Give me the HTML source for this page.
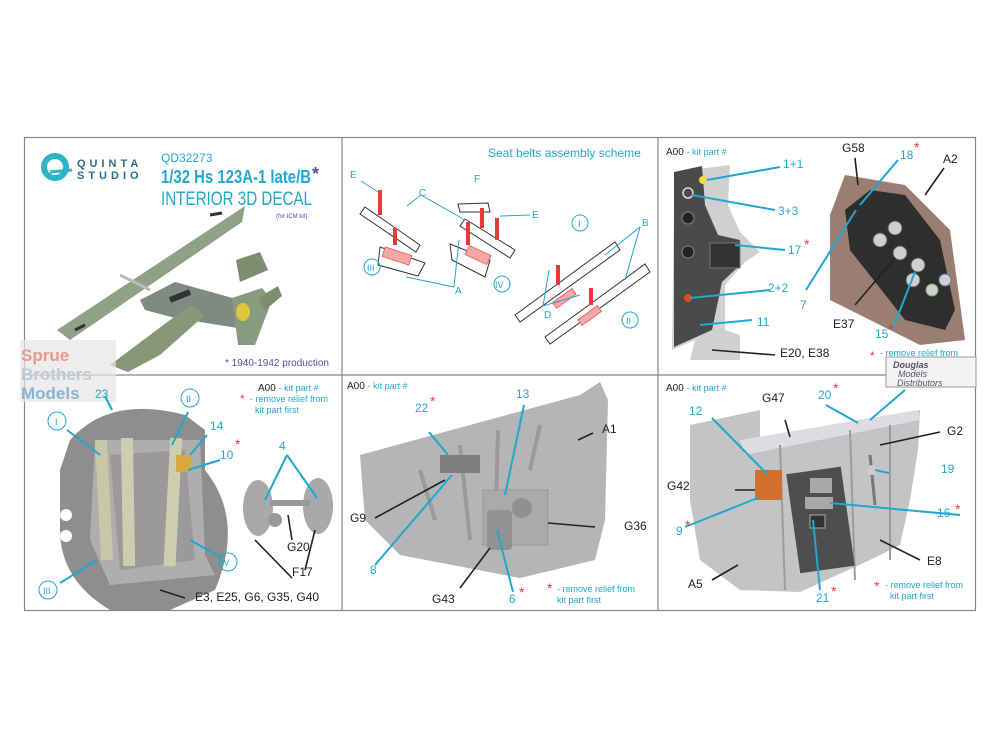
<!DOCTYPE html>
<html><head><meta charset="utf-8"><style>
html,body{margin:0;padding:0;background:#fff;}
svg{display:block}
text{font-family:"Liberation Sans",Arial,sans-serif;}
.c{fill:#22a7cf}
.k{fill:#222}
.r{fill:#e83a3a}
.lc{stroke:#22a7cf;stroke-width:2;fill:none}
.lk{stroke:#222;stroke-width:1.6;fill:none}
.tl{stroke:#22a7cf;stroke-width:1;fill:none}
</style></head><body>
<svg width="1000" height="750" viewBox="0 0 1000 750" xmlns="http://www.w3.org/2000/svg">
<rect width="1000" height="750" fill="#fff"/>
<rect x="24.5" y="137.5" width="951" height="473" fill="none" stroke="#888" stroke-width="1.2"/>
<line x1="342" y1="137" x2="342" y2="611" stroke="#888" stroke-width="1.2"/>
<line x1="658" y1="137" x2="658" y2="611" stroke="#888" stroke-width="1.2"/>
<line x1="24" y1="375" x2="976" y2="375" stroke="#888" stroke-width="1.2"/>

<!-- PANEL 1 -->
<circle cx="55" cy="167" r="11" fill="none" stroke="#2bb3c8" stroke-width="6"/>
<path d="M50 172 L72 170" stroke="#2bb3c8" stroke-width="3"/>
<text x="77" y="167" font-size="11" font-weight="bold" fill="#2a6d8a" letter-spacing="4">QUINTA</text>
<text x="77" y="179" font-size="11" font-weight="bold" fill="#2a6d8a" letter-spacing="4">STUDIO</text>
<text x="161" y="162" font-size="12" class="c">QD32273</text>
<text x="161" y="183" font-size="18" font-weight="bold" class="c" textLength="150" lengthAdjust="spacingAndGlyphs">1/32 Hs 123A-1 late/B</text>
<text x="312" y="180" font-size="18" font-weight="bold" fill="#5a4aa8">*</text>
<text x="161" y="205" font-size="19" class="c" textLength="151" lengthAdjust="spacingAndGlyphs">INTERIOR 3D DECAL</text>
<text x="276" y="218" font-size="6" fill="#5a4aa8">(for ICM kit)</text>
<!-- plane -->
<path d="M236 260 L260 252 L268 270 L240 282 Z" fill="#7d8f70"/>
<path d="M140 300 L175 282 L240 300 L262 318 L250 330 L175 318 L145 310 Z" fill="#7f8a82"/>
<path d="M110 365 L170 320 L190 305 L205 315 L160 355 L128 372 Z" fill="#86977a"/>
<path d="M245 206 L242 222 L70 340 L57 330 Z" fill="#8fa285"/>
<path d="M232 298 L262 288 L272 300 L255 345 L238 345 Z" fill="#889b7f"/>
<path d="M258 298 L278 286 L282 296 L265 310 Z" fill="#7d8f70"/>
<ellipse cx="243" cy="312" rx="7" ry="9" fill="#e0c640"/>
<path d="M170 300 L190 292" stroke="#333" stroke-width="6"/>
<path d="M75 330 L85 325 M210 215 L222 213" stroke="#333" stroke-width="3"/>
<path d="M120 275 L150 290" stroke="#bbb" stroke-width="3"/>
<text x="225" y="366" font-size="10" fill="#5a4aa8">* 1940-1942 production</text>
<rect x="20" y="340" width="96" height="62" fill="#e6e6e6" opacity="0.7"/>
<text x="21" y="361" font-size="17" font-weight="bold" font-family="Liberation Serif" fill="#e89a8c">Sprue</text>
<text x="21" y="380" font-size="17" font-weight="bold" font-family="Liberation Serif" fill="#c0c8d0">Brothers</text>
<text x="21" y="399" font-size="17" font-weight="bold" font-family="Liberation Serif" fill="#8ab4d4">Models</text>

<!-- PANEL 2 top : belts -->
<text x="488" y="157" font-size="12" class="c">Seat belts assembly scheme</text>
<g stroke="#333" stroke-width="1" fill="#fff">
<path d="M365 207 L420 245 L416 252 L360 214 Z"/>
<path d="M380 247 L425 263 L418 276 L378 265 Z"/>
<path d="M450 244 L490 260 L485 277 L452 260 Z"/>
<path d="M458 204 L488 203 L490 212 L460 212 Z"/>
<path d="M465 219 L515 250 L510 258 L460 226 Z"/>
<path d="M515 315 L615 242 L620 250 L520 322 Z"/>
<path d="M545 337 L645 264 L650 272 L550 344 Z"/>
</g>
<g fill="#f4a8a8" stroke="#e55" stroke-width="0.8">
<rect x="383" y="251" width="28" height="10" transform="rotate(18 397 256)"/>
<rect x="466" y="250" width="24" height="10" transform="rotate(25 478 255)"/>
<rect x="552" y="295" width="24" height="7" transform="rotate(-36 564 298)"/>
<rect x="578" y="312" width="24" height="7" transform="rotate(-36 590 316)"/>
</g>
<g stroke="#e83a3a" stroke-width="4">
<line x1="380" y1="190" x2="380" y2="215"/><line x1="395" y1="228" x2="395" y2="245"/>
<line x1="482" y1="208" x2="482" y2="228"/><line x1="468" y1="222" x2="468" y2="245"/>
<line x1="497" y1="218" x2="497" y2="240"/><line x1="558" y1="265" x2="558" y2="285"/>
<line x1="591" y1="288" x2="591" y2="305"/>
</g>
<g class="tl">
<path d="M361 181 L378 192"/><path d="M421 195 L407 206 M421 195 L465 220"/>
<path d="M406 277 L454 287 L459 240"/><path d="M500 216 L530 215"/>
<path d="M543 306 L549 270 M543 306 L580 295"/><path d="M640 227 L605 255 M640 227 L625 280"/>
<circle cx="372" cy="267" r="8"/><circle cx="502" cy="284" r="8"/>
<circle cx="580" cy="223" r="8"/><circle cx="630" cy="320" r="8"/>
</g>
<g font-size="10" class="c">
<text x="350" y="178">E</text><text x="419" y="196">C</text><text x="474" y="182">F</text>
<text x="532" y="218">E</text><text x="642" y="226">B</text><text x="455" y="294">A</text>
<text x="544" y="318">D</text>
<text x="367" y="271" font-size="9">III</text><text x="495" y="288" font-size="9">IV</text>
<text x="578" y="227" font-size="9">I</text><text x="626" y="324" font-size="9">II</text>
</g>

<!-- PANEL 3 top -->
<text x="666" y="155" font-size="10" class="k">A00 <tspan class="c" font-size="9">- kit part #</tspan></text>
<path d="M690 170 L730 165 L728 205 L740 232 L760 252 L745 262 L725 285 L725 330 L740 335 L740 360 L690 360 L695 340 L672 350 L674 200 Z" fill="#d0d0d0"/>
<path d="M674 172 L702 166 L705 205 L718 235 L740 240 L740 265 L722 282 L712 330 L674 347 Z" fill="#4a4a4a"/>
<circle cx="703" cy="180" r="4" fill="#e8dc40"/><circle cx="688" cy="193" r="5" fill="none" stroke="#ddd" stroke-width="1.5"/>
<circle cx="688" cy="218" r="6" fill="#222" stroke="#888"/><circle cx="688" cy="252" r="6" fill="#222" stroke="#888"/>
<rect x="710" y="243" width="30" height="25" fill="#333" stroke="#777"/>
<circle cx="688" cy="298" r="4" fill="#e04a20"/>
<path d="M830 215 L845 175 L905 185 L950 230 L965 340 L920 345 L830 300 Z" fill="#9a7e72"/>
<path d="M845 210 L870 190 L905 195 L940 240 L955 310 L945 330 L905 320 L850 250 Z" fill="#2e2e2e"/>
<g fill="#cfcfcf" stroke="#555"><circle cx="895" cy="228" r="7"/><circle cx="880" cy="240" r="7"/><circle cx="900" cy="253" r="7"/><circle cx="918" cy="265" r="7"/><circle cx="932" cy="290" r="6" stroke="#7a5" /><circle cx="945" cy="280" r="6" stroke="#57a"/><circle cx="913" cy="280" r="7"/></g>
<g class="lc">
<path d="M707 180 L780 167"/><path d="M692 195 L775 210"/><path d="M735 245 L785 250"/>
<path d="M690 298 L770 290"/><path d="M700 325 L752 320"/>
<path d="M860 205 L898 160"/><path d="M856 210 L806 290"/><path d="M915 272 L893 328"/>
</g>
<g class="lk"><path d="M712 350 L775 355"/><path d="M855 158 L858 185"/><path d="M944 168 L925 195"/><path d="M855 305 L895 258"/></g>
<g font-size="12" class="c">
<text x="783" y="168">1+1</text><text x="778" y="215">3+3</text><text x="788" y="254">17</text>
<text x="768" y="292">2+2</text><text x="757" y="326">11</text><text x="800" y="309">7</text>
<text x="900" y="159">18</text><text x="875" y="338">15</text>
</g>
<g font-size="12" class="k"><text x="780" y="357">E20, E38</text><text x="842" y="152">G58</text><text x="943" y="163">A2</text><text x="833" y="328">E37</text></g>
<g font-size="14" class="r"><text x="804" y="249">*</text><text x="914" y="152">*</text><text x="888" y="334">*</text><text x="870" y="360" font-size="12">*</text></g>
<text x="880" y="356" font-size="9" class="c">- remove relief from</text>
<rect x="886" y="357" width="90" height="30" fill="#f3f3f3" stroke="#999"/>
<text x="893" y="368" font-size="9" font-style="italic" font-weight="bold" fill="#556">Douglas</text>
<text x="898" y="377" font-size="9" font-style="italic" fill="#556">Models</text>
<text x="897" y="386" font-size="9" font-style="italic" fill="#556">Distributors</text>

<!-- PANEL 4 bottom-left seat -->
<path d="M70 440 Q110 395 185 415 L205 430 L205 470 Q245 520 215 590 L170 610 L110 610 Q60 580 60 530 L60 470 Z" fill="#8e8e8e"/>
<path d="M95 440 L200 440 L205 555 L215 575 L110 585 L90 540 Z" fill="#aeaeae"/>
<path d="M110 455 L185 450 L195 560 L120 570 Z" fill="#9a9a9a"/>
<rect x="98" y="440" width="12" height="120" fill="#c8c7a8" transform="rotate(-3 104 500)"/>
<rect x="122" y="438" width="12" height="128" fill="#cfcdb0" transform="rotate(-1 128 500)"/>
<rect x="167" y="438" width="12" height="128" fill="#cfcdb0" transform="rotate(3 173 500)"/>
<rect x="176" y="455" width="15" height="17" fill="#d8a838"/>
<circle cx="66" cy="515" r="6" fill="#fff"/><circle cx="66" cy="536" r="6" fill="#fff"/>
<ellipse cx="258" cy="508" rx="15" ry="28" fill="#a7a9ab"/>
<ellipse cx="318" cy="506" rx="15" ry="28" fill="#a7a9ab"/>
<rect x="270" y="500" width="40" height="6" fill="#999"/>
<circle cx="275" cy="520" r="7" fill="#999"/>
<g class="lc"><path d="M67 430 L100 455"/><path d="M188 412 L172 445"/><path d="M207 435 L190 455"/><path d="M220 460 L188 470"/><path d="M287 455 L265 500 M287 455 L317 498"/><path d="M60 583 L97 560"/><path d="M222 558 L190 540"/><path d="M105 396 L112 410"/></g>
<g class="lk"><path d="M185 598 L160 590"/><path d="M292 578 L255 540"/><path d="M305 570 L315 530"/><path d="M292 540 L288 515"/></g>
<g class="tl" stroke-width="1.3"><circle cx="57" cy="421" r="9"/><circle cx="190" cy="398" r="9"/><circle cx="228" cy="562" r="9"/><circle cx="48" cy="590" r="9"/></g>
<g font-size="9" class="c"><text x="55" y="425">I</text><text x="186" y="402">II</text><text x="221" y="566">IV</text><text x="43" y="594">III</text></g>
<g font-size="12" class="c"><text x="95" y="398">23</text><text x="210" y="430">14</text><text x="220" y="459">10</text><text x="279" y="450">4</text></g>
<text x="235" y="449" font-size="14" class="r">*</text>
<text x="258" y="391" font-size="10" class="k">A00 <tspan class="c" font-size="9">- kit part #</tspan></text>
<text x="240" y="403" font-size="12" class="r">*</text>
<text x="250" y="402" font-size="9" class="c">- remove relief from</text>
<text x="255" y="413" font-size="9" class="c">kit part first</text>
<g font-size="12" class="k"><text x="287" y="551">G20</text><text x="292" y="576">F17</text><text x="195" y="601">E3, E25, G6, G35, G40</text></g>

<!-- PANEL 5 bottom-middle -->
<path d="M360 455 L580 395 L600 382 L608 400 L605 520 L595 560 L520 578 L400 555 L365 520 Z" fill="#b3b5b7"/>
<path d="M420 470 L435 520 M460 445 L470 540 M498 430 L495 545 M540 425 L530 470" stroke="#989a9c" stroke-width="4" fill="none"/>
<rect x="440" y="455" width="40" height="18" fill="#7c7e80"/>
<rect x="483" y="490" width="65" height="55" fill="#a8aaac" stroke="#999"/>
<rect x="487" y="510" width="25" height="40" rx="4" fill="#909294"/>
<circle cx="522" cy="508" r="10" fill="#8e9092"/>
<g class="lc"><path d="M429 432 L448 455"/><path d="M524 405 L505 495"/><path d="M375 565 L452 475"/><path d="M513 592 L497 530"/></g>
<g class="lk"><path d="M375 518 L445 480"/><path d="M593 433 L578 440"/><path d="M595 527 L548 523"/><path d="M460 588 L490 548"/></g>
<text x="347" y="389" font-size="10" class="k">A00 <tspan class="c" font-size="9">- kit part #</tspan></text>
<g font-size="12" class="c"><text x="415" y="412">22</text><text x="516" y="398">13</text><text x="370" y="574">8</text><text x="509" y="603">6</text></g>
<g font-size="14" class="r"><text x="430" y="406">*</text><text x="519" y="597">*</text><text x="547" y="593">*</text></g>
<g font-size="12" class="k"><text x="602" y="433">A1</text><text x="350" y="522">G9</text><text x="624" y="530">G36</text><text x="432" y="603">G43</text></g>
<text x="557" y="592" font-size="9" class="c">- remove relief from</text>
<text x="557" y="603" font-size="9" class="c">kit part first</text>

<!-- PANEL 6 bottom-right -->
<path d="M690 425 L760 410 L760 440 L920 410 L918 450 L910 500 L900 545 L870 560 L800 592 L740 590 L700 560 L690 500 Z" fill="#c2c4c6"/>
<path d="M740 440 L918 410 L920 420 L745 455 Z" fill="#dcdde0"/>
<path d="M780 445 L785 590 M850 430 L855 580 M890 425 L890 560" stroke="#9a9c9e" stroke-width="2" fill="none"/>
<rect x="793" y="470" width="55" height="100" fill="#4c4e50" transform="rotate(-8 820 520)"/>
<rect x="810" y="478" width="22" height="15" fill="#a8a8a8"/>
<rect x="805" y="497" width="28" height="12" fill="#a8a8a8"/>
<rect x="810" y="515" width="15" height="13" fill="#333" stroke="#aaa"/>
<rect x="755" y="470" width="27" height="30" fill="#d46f2e"/>
<path d="M870 455 L875 505" stroke="#777" stroke-width="3"/><circle cx="872" cy="470" r="5" fill="#ccc"/>
<g class="lc"><path d="M712 418 L768 475"/><path d="M826 405 L858 423"/><path d="M905 390 L870 420"/><path d="M889 473 L875 470"/><path d="M960 515 L830 503"/><path d="M685 527 L760 497"/><path d="M820 590 L813 520"/></g>
<g class="lk"><path d="M735 490 L755 490"/><path d="M785 420 L790 437"/><path d="M940 432 L880 445"/><path d="M920 560 L880 540"/><path d="M712 580 L738 565"/></g>
<text x="666" y="391" font-size="10" class="k">A00 <tspan class="c" font-size="9">- kit part #</tspan></text>
<g font-size="12" class="c"><text x="689" y="415">12</text><text x="818" y="399">20</text><text x="941" y="473">19</text><text x="937" y="517">16</text><text x="676" y="535">9</text><text x="816" y="602">21</text></g>
<g font-size="14" class="r"><text x="833" y="393">*</text><text x="955" y="514">*</text><text x="685" y="530">*</text><text x="831" y="596">*</text><text x="874" y="591">*</text></g>
<g font-size="12" class="k"><text x="762" y="402">G47</text><text x="947" y="435">G2</text><text x="667" y="490">G42</text><text x="927" y="565">E8</text><text x="688" y="588">A5</text></g>
<text x="885" y="588" font-size="9" class="c">- remove relief from</text>
<text x="890" y="599" font-size="9" class="c">kit part first</text>
</svg>
</body></html>
